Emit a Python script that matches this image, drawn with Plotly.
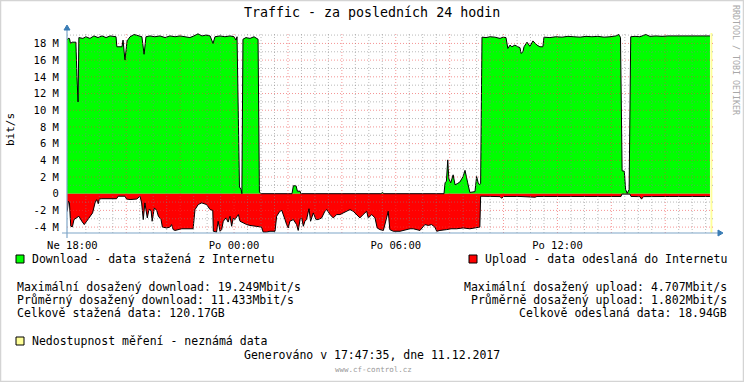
import plotly.graph_objects as go

# ---------------- data (hours since Sunday 00:00, Mbit/s) ----------------
hours_dl = [17.80, 17.84, 17.89, 17.93, 17.99, 18.13, 18.17, 18.21, 18.24, 18.39, 18.50, 18.65, 18.80,
            18.95, 19.10, 19.25, 19.40, 19.54, 19.62, 19.65, 19.84, 19.88, 19.95, 20.03, 20.14, 20.29,
            20.43, 20.58, 20.66, 20.73, 20.88, 21.06, 21.25, 21.44, 21.62, 21.81, 21.99, 22.18, 22.36,
            22.51, 22.66, 22.81, 22.96, 23.11, 23.22, 23.29, 23.48, 23.66, 23.85, 24.00, 24.07, 24.11,
            24.16, 24.20, 24.26, 24.29, 24.33, 24.44, 24.59, 24.74, 24.89, 24.94, 25.00, 26.15, 26.20,
            26.30, 26.35, 26.45, 26.48, 29.45, 29.51, 29.56, 31.79, 31.83, 31.88, 31.93, 31.97, 32.04,
            32.13, 32.20, 32.28, 32.38, 32.50, 32.57, 32.67, 32.75, 32.94, 33.00, 33.06, 33.10, 33.15,
            33.20, 33.35, 33.50, 33.68, 33.87, 33.98, 34.09, 34.16, 34.24, 34.31, 34.42, 34.53, 34.61,
            34.65, 34.72, 34.76, 34.87, 34.98, 35.09, 35.24, 35.35, 35.46, 35.50, 35.72, 35.94, 36.17,
            36.39, 36.61, 36.84, 37.06, 37.28, 37.50, 37.73, 37.95, 38.17, 38.28, 38.34, 38.40, 38.48,
            38.53, 38.59, 38.66, 38.72, 38.88, 39.06, 39.28, 39.43, 39.66, 39.88, 40.10, 40.32, 40.55,
            40.77, 40.99, 41.21, 41.44, 41.66]
download = [18.4, 18.6, 18.6, 18.0, 18.15, 18.15, 14.0, 11.0, 18.7, 18.6, 18.8, 18.6, 18.9,
            18.7, 18.9, 18.7, 18.9, 18.8, 18.8, 17.6, 17.6, 18.4, 16.0, 18.3, 18.8, 19.07,
            18.9, 18.8, 16.7, 18.8, 18.9, 18.8, 18.9, 18.7, 18.9, 18.8, 18.9, 18.8, 18.7,
            18.9, 19.15, 18.9, 19.0, 18.9, 18.0, 18.8, 18.9, 18.8, 18.9, 18.8, 18.4, 18.8,
            10.0, 0.8, 0.5, 0.0, 18.5, 18.7, 18.6, 18.8, 18.5, 0.2, 0.0, 0.0, 0.95,
            0.95, 0.3, 0.3, 0.0, 0.0, 0.15, 0.0, 0.0, 1.3, 1.5, 4.05, 1.8, 1.3,
            2.26, 1.07, 1.2, 1.4, 2.06, 2.8, 1.3, 0.15, 0.25, 2.06, 1.3, 1.1, 1.2,
            18.75, 18.7, 18.8, 18.75, 18.6, 18.75, 18.7, 17.4, 17.8, 17.6, 17.8, 17.6, 17.5,
            16.8, 17.0, 17.6, 18.15, 17.65, 18.3, 17.8, 17.6, 17.6, 18.75, 18.7, 18.8, 18.75,
            18.85, 18.8, 18.75, 18.85, 18.8, 18.85, 18.75, 18.8, 18.9, 19.07, 18.7, 2.74, 2.7,
            0.5, 0.05, 0.5, 18.8, 18.85, 18.8, 19.07, 18.85, 18.9, 18.85, 18.9, 18.9, 18.85,
            18.9, 18.85, 18.9, 18.85, 18.9]

hours_ul = [17.80, 17.81, 17.85, 17.89, 17.94, 18.00, 18.06, 18.16, 18.24, 18.35, 18.44, 18.53, 18.65,
            18.75, 18.84, 18.90, 18.96, 19.00, 19.09, 19.64, 19.70, 19.95, 20.01, 20.14, 20.39, 20.45,
            20.51, 20.57, 20.63, 20.69, 20.72, 20.78, 20.84, 20.92, 20.96, 21.04, 21.13, 21.19, 21.29,
            21.34, 21.50, 21.62, 21.68, 21.74, 21.81, 21.93, 22.06, 22.48, 22.55, 22.67, 22.80, 22.98,
            23.11, 23.21, 23.23, 23.35, 23.41, 23.48, 23.54, 23.60, 23.70, 23.78, 23.85, 23.91, 23.97,
            24.03, 24.16, 24.22, 24.34, 24.47, 24.59, 24.84, 25.02, 25.08, 25.21, 25.33, 25.52, 25.58,
            25.64, 25.70, 25.77, 25.83, 25.89, 25.95, 26.01, 26.07, 26.20, 26.32, 26.38, 26.45, 26.51,
            26.57, 26.63, 26.69, 26.78, 26.84, 26.94, 27.04, 27.12, 27.25, 27.37, 27.44, 27.56, 27.68,
            27.81, 27.93, 28.05, 28.18, 28.30, 28.42, 28.55, 28.67, 28.79, 28.92, 28.98, 29.11, 29.23,
            29.31, 29.41, 29.54, 29.66, 29.72, 29.78, 29.91, 30.16, 30.40, 30.53, 30.65, 30.78, 30.90,
            31.08, 31.21, 31.33, 31.45, 31.52, 31.64, 31.89, 32.05, 32.26, 32.50, 32.75, 33.00, 33.12,
            33.15, 33.50, 33.87, 33.93, 34.00, 34.61, 35.17, 35.24, 36.09, 37.58, 38.36, 38.39, 38.69,
            38.73, 39.06, 39.12, 39.19, 40.17, 41.66]
upload = [-2.1, -2.1, -0.9, -1.1, -3.9, -3.97, -3.1, -2.9, -2.7, -3.3, -3.7, -3.3, -2.7,
          -2.3, -1.1, -0.7, -1.2, -0.64, -0.6, -0.6, -0.3, -0.3, -0.64, -0.7, -0.64, -0.5,
          -0.3, -1.1, -3.1, -1.1, -1.8, -2.9, -1.9, -2.0, -3.3, -1.7, -2.0, -2.7, -3.1,
          -4.0, -4.1, -4.0, -3.7, -4.3, -4.4, -4.3, -4.2, -4.2, -1.9, -1.3, -1.1, -1.3,
          -1.9, -2.0, -4.5, -4.6, -3.3, -4.5, -4.3, -3.3, -2.9, -3.4, -2.7, -3.9, -2.9,
          -3.1, -2.5, -3.3, -3.5, -3.7, -3.8, -3.9, -4.0, -4.6, -4.6, -4.5, -4.5, -2.7,
          -2.3, -2.1, -2.0, -2.7, -3.1, -3.7, -4.1, -3.3, -3.1, -3.7, -4.4, -3.1, -2.9,
          -3.9, -3.3, -3.1, -1.8, -3.3, -2.3, -3.1, -3.1, -2.9, -2.1, -1.9, -2.5, -2.9,
          -2.5, -2.5, -2.3, -2.1, -1.9, -2.1, -2.5, -2.9, -2.5, -2.1, -2.9, -2.5, -2.9,
          -4.1, -4.3, -4.4, -2.9, -2.1, -4.3, -4.5, -4.5, -4.3, -4.2, -4.2, -4.3, -4.4,
          -3.7, -3.8, -3.7, -4.0, -4.5, -4.4, -4.3, -4.2, -4.2, -4.1, -4.2, -4.05, -4.0,
          -0.3, -0.32, -0.35, -0.55, -0.33, -0.33, -0.42, -0.33, -0.33, -0.33, -0.33, -0.05, -0.05,
          -0.33, -0.35, -0.65, -0.35, -0.33, -0.33]

unknown_start = 41.68
unknown_end = 41.75

x_range = [17.80, 41.81]
y_range = [-4.707, 19.249]

x_major = [18, 20, 22, 24, 26, 28, 30, 32, 34, 36, 38, 40]
x_labels = {18: "Ne 18:00", 24: "Po 00:00", 30: "Po 06:00", 36: "Po 12:00"}
x_minor_step = 0.5
y_major = [-4, -2, 0, 2, 4, 6, 8, 10, 12, 14, 16, 18]
y_labels = ["-4 M", "-2 M", "0", "2 M", "4 M", "6 M", "8 M", "10 M", "12 M", "14 M", "16 M", "18 M"]
y_minor = [-3, -1, 1, 3, 5, 7, 9, 11, 13, 15, 17, 19]

title = "Traffic - za posledních 24 hodin"
dl_legend = "Download - data stažená z Internetu"
ul_legend = "Upload - data odeslaná do Internetu"
dl_stats = ["Maximální dosažený download: 19.249Mbit/s",
            "Průměrný dosažený download: 11.433Mbit/s",
            "Celkově stažená data: 120.17GB"]
ul_stats = ["Maximální dosažený upload: 4.707Mbit/s",
            "Průměrně dosažený upload: 1.802Mbit/s",
            "Celkově odeslaná data: 18.94GB"]
unknown_legend = "Nedostupnost měření - neznámá data"
generated = "Generováno v 17:47:35, dne 11.12.2017"
site = "www.cf-control.cz"
watermark = "RRDTOOL / TOBI OETIKER"

# ---------------- layout geometry ----------------
W, H = 744, 382
L, R, T, B = 67, 714, 33, 233
MONO = "DejaVu Sans Mono"


def px(x):
    return (x - L) / (R - L)


def py(y):
    return (B - y) / (B - T)


fig = go.Figure()

fig.add_vrect(x0=unknown_start, x1=unknown_end, fillcolor="#FFFF99", opacity=1,
              line_width=0, layer="below")

# fills
fig.add_trace(go.Scatter(x=hours_dl, y=download, mode="lines", fill="tozeroy",
                         fillcolor="#00FF00", line=dict(width=0), hoverinfo="skip"))
fig.add_trace(go.Scatter(x=hours_ul, y=upload, mode="lines", fill="tozeroy",
                         fillcolor="#FF0000", line=dict(width=0), hoverinfo="skip"))
# outlines
fig.add_trace(go.Scatter(x=hours_dl, y=download, mode="lines",
                         line=dict(color="black", width=1), hoverinfo="skip"))
fig.add_trace(go.Scatter(x=hours_ul, y=upload, mode="lines",
                         line=dict(color="black", width=1), hoverinfo="skip"))

shapes = []
MINOR_C = "rgba(130,130,130,0.55)"
MAJOR_C = "rgba(235,60,60,0.55)"
# vertical grid
t = x_major[0] - 2
k = 0
while t + k * x_minor_step <= x_range[1]:
    v = t + k * x_minor_step
    k += 1
    if v < x_range[0]:
        continue
    is_major = v in x_major
    shapes.append(dict(type="line", xref="x", yref="paper", x0=v, x1=v, y0=0, y1=1,
                       line=dict(color=MAJOR_C if is_major else MINOR_C, width=1, dash="1px,2px"),
                       layer="above"))
for v in y_major + y_minor:
    if v == 0:
        continue
    shapes.append(dict(type="line", xref="paper", yref="y", x0=0, x1=1, y0=v, y1=v,
                       line=dict(color=MAJOR_C if v in y_major else MINOR_C, width=1, dash="1px,2px"),
                       layer="above"))

AX = "#7FA6C8"
AXD = "#3A7DB5"
# axis lines with arrows
shapes.append(dict(type="line", xref="paper", yref="paper", x0=px(62), x1=px(719), y0=0, y1=0,
                   line=dict(color=AX, width=1.2), layer="above"))
shapes.append(dict(type="line", xref="paper", yref="paper", x0=0, x1=0, y0=py(238), y1=py(28),
                   line=dict(color=AX, width=1.2), layer="above"))
shapes.append(dict(type="path", xref="paper", yref="paper",
                   path=f"M {px(718)} {py(230)} L {px(723)} {py(233)} L {px(718)} {py(236)} Z",
                   fillcolor=AXD, line=dict(color=AXD, width=1), layer="above"))
shapes.append(dict(type="path", xref="paper", yref="paper",
                   path=f"M {px(64)} {py(30)} L {px(67)} {py(25)} L {px(70)} {py(30)} Z",
                   fillcolor=AXD, line=dict(color=AXD, width=1), layer="above"))

# legend squares
def square(x0, y0, color):
    return dict(type="rect", xref="paper", yref="paper", x0=px(x0), x1=px(x0 + 8),
                y0=py(y0 + 8), y1=py(y0), fillcolor=color, line=dict(color="black", width=1))

shapes.append(square(16, 255, "#00FF00"))
shapes.append(square(469, 255, "#FF0000"))
shapes.append(square(16, 337, "#FFFF99"))
# frame
shapes.append(dict(type="rect", xref="paper", yref="paper", x0=px(0.5), x1=px(743.5),
                   y0=py(381.5), y1=py(0.5), line=dict(color="#D4D4D4", width=1.5)))

ann = []


def text(s, x, y, xa="left", size=11.5, color="black", angle=0):
    ann.append(dict(text=s, x=px(x), y=py(y), xref="paper", yref="paper", xanchor=xa,
                    yanchor="middle", showarrow=False, textangle=angle,
                    font=dict(family=MONO, size=size, color=color)))


text(title, 372, 13, "center", size=13.3)
text(dl_legend, 30, 259)
text(ul_legend, 729, 259, "right")
for i, s in enumerate(dl_stats):
    text(s, 15, 287 + i * 13)
for i, s in enumerate(ul_stats):
    text(s, 729, 287 + i * 13, "right")
text(unknown_legend, 30, 341)
text(generated, 372, 355, "center")
text(site, 373, 369, "center", size=7.5, color="#9A9A9A")
text(watermark, 736, 60, "center", size=8.3, color="#A8A8A8", angle=90)
text("bit/s", 10, 130, "center", size=11, angle=-90)

fig.update_layout(
    width=W, height=H, showlegend=False,
    paper_bgcolor="white", plot_bgcolor="white",
    margin=dict(l=L, r=W - R, t=T, b=H - B, autoexpand=False),
    shapes=shapes, annotations=ann,
    xaxis=dict(range=x_range, showgrid=False, zeroline=False, showline=False,
               tickmode="array", tickvals=list(x_labels.keys()), ticktext=list(x_labels.values()),
               ticks="outside", ticklen=2, tickcolor="rgba(0,0,0,0)",
               tickfont=dict(family=MONO, size=10.5, color="black")),
    yaxis=dict(range=y_range, showgrid=False, zeroline=False, showline=False,
               tickmode="array", tickvals=y_major, ticktext=y_labels,
               ticks="outside", ticklen=5, tickcolor="rgba(0,0,0,0)",
               tickfont=dict(family=MONO, size=10.5, color="black")),
)

fig.write_html("out.html", config={"displayModeBar": False},
               post_script="document.body.style.margin='0';")
